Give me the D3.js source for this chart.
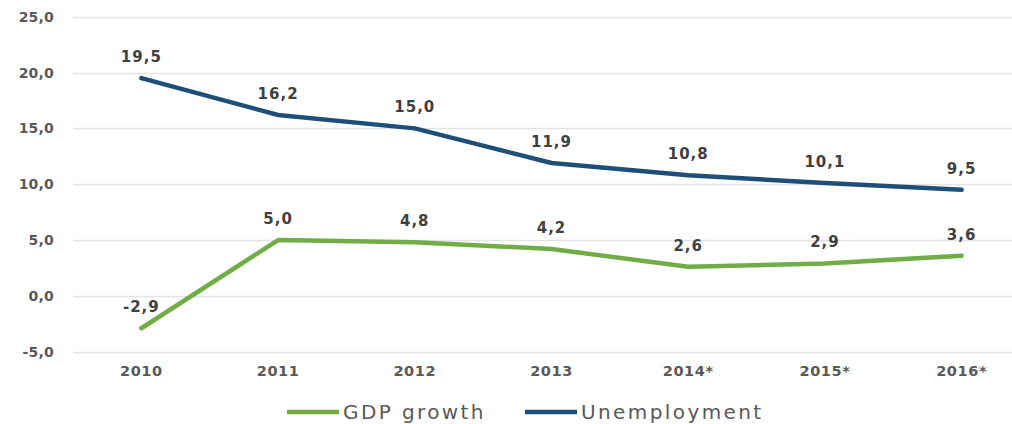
<!DOCTYPE html>
<html>
<head>
<meta charset="utf-8">
<script src="https://cdn.jsdelivr.net/npm/d3@7"></script>
<style>
  body { margin: 0; background: #fff; }
  text { font-family: "DejaVu Sans", Verdana, sans-serif; }
</style>
</head>
<body>
<svg id="chart" width="1012" height="424"></svg>
<script>
"use strict";

// données
var years = ["2010", "2011", "2012", "2013", "2014*", "2015*", "2016*"]
var gdpGrowth = [-2.9, 5.0, 4.8, 4.2, 2.6, 2.9, 3.6]
var unemployment = [19.5, 16.2, 15.0, 11.9, 10.8, 10.1, 9.5]
var yTicks = [-5, 0, 5, 10, 15, 20, 25]

var series = [
  { name: "GDP growth", values: gdpGrowth, color: "#70AD47" },
  { name: "Unemployment", values: unemployment, color: "#1F4E79" }
]

var svg = d3.select("#chart")
var fmt = d3.formatLocale({ decimal: ",", thousands: " ", grouping: [3], currency: ["", ""], minus: "-" }).format(".1f")

var x = d3.scaleBand().domain(years).range([73, 1030])
var y = d3.scaleLinear().domain([-5, 25]).range([351.7, 16.7])

// lignes de grille
svg.append("g")
  .selectAll("line")
  .data(yTicks)
  .enter()
  .append("line")
    .attr("x1", 73)
    .attr("x2", 1012)
    .attr("y1", function(d) { return Math.round(y(d)) + 0.5 })
    .attr("y2", function(d) { return Math.round(y(d)) + 0.5 })
    .style("stroke", "#e3e3e3")
    .style("stroke-width", 1.3)

// axe y
var yAxis = svg.append("g")
  .attr("transform", "translate(54,0)")
  .call(d3.axisLeft(y).tickValues(yTicks).tickSize(0).tickPadding(0).tickFormat(fmt))
yAxis.select(".domain").remove()
yAxis.selectAll("text")
  .style("font-size", "14px")
  .style("font-weight", "bold")
  .style("letter-spacing", "0.2px")
  .style("fill", "#595959")

// axe x
var xAxis = svg.append("g")
  .attr("transform", "translate(0,366)")
  .call(d3.axisBottom(x).tickSize(0).tickPadding(0))
xAxis.select(".domain").remove()
xAxis.selectAll("text")
  .style("font-size", "14.5px")
  .style("font-weight", "bold")
  .style("letter-spacing", "0.6px")
  .style("fill", "#595959")

var line = d3.line()
  .x(function(d, i) { return x(years[i]) + x.bandwidth() / 2 })
  .y(function(d) { return y(d) })

var groups = svg.append("g")
  .selectAll("g")
  .data(series)
  .enter()
  .append("g")

groups.append("path")
  .attr("d", function(d) { return line(d.values) })
  .style("fill", "none")
  .style("stroke", function(d) { return d.color })
  .style("stroke-width", 4.5)
  .style("stroke-linecap", "round")
  .style("stroke-linejoin", "round")

// étiquettes de valeurs
groups.selectAll("text")
  .data(function(d) { return d.values })
  .enter()
  .append("text")
    .attr("x", function(d, i) { return x(years[i]) + x.bandwidth() / 2 })
    .attr("y", function(d) { return y(d) - 16 })
    .attr("text-anchor", "middle")
    .style("font-size", "15px")
    .style("font-weight", "bold")
    .style("letter-spacing", "1px")
    .style("fill", "#404040")
    .text(function(d) { return fmt(d) })

// légende
var legendX = [287, 525]
var legend = svg.append("g")
  .selectAll("g")
  .data(series)
  .enter()
  .append("g")
    .attr("transform", function(d, i) { return "translate(" + legendX[i] + ",412)" })

legend.append("line")
  .attr("x1", 0)
  .attr("x2", 52)
  .style("stroke", function(d) { return d.color })
  .style("stroke-width", 4.5)

legend.append("text")
  .attr("x", 56)
  .attr("y", 7)
  .style("font-size", "20px")
  .style("letter-spacing", "2.4px")
  .style("fill", "#595959")
  .text(function(d) { return d.name })
</script>
</body>
</html>
